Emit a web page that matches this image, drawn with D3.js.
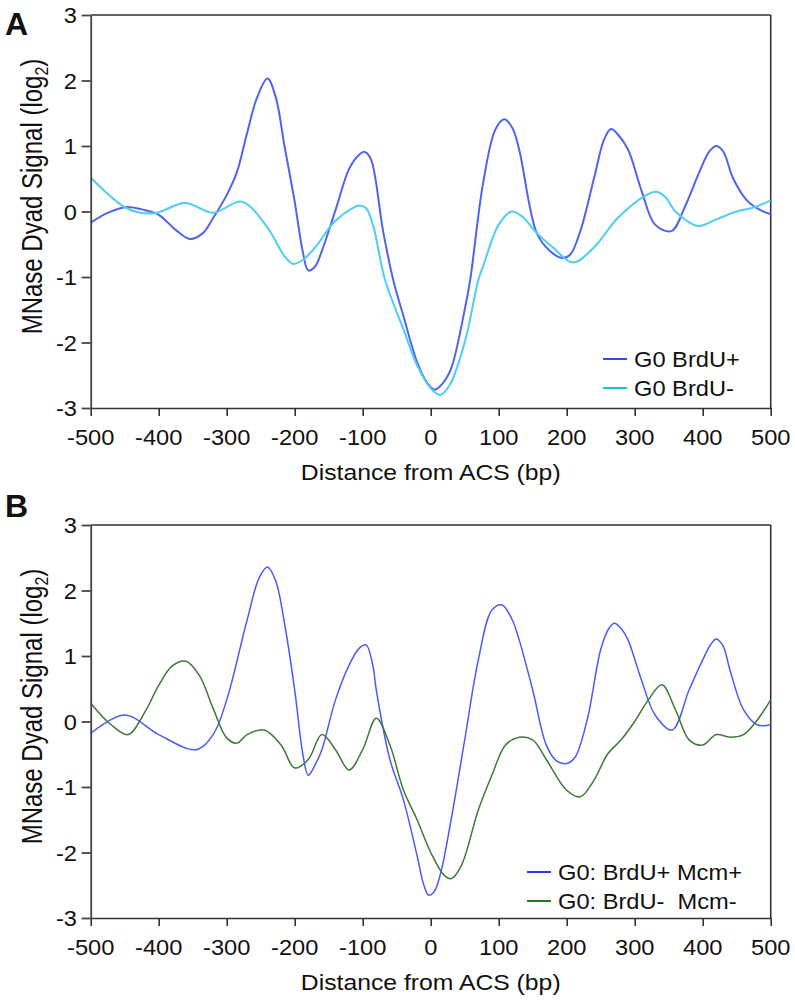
<!DOCTYPE html>
<html>
<head>
<meta charset="utf-8">
<script src="https://cdn.jsdelivr.net/npm/d3@7"></script>
<style>
  body { margin: 0; background: #fff; }
  svg text { font-family: "Liberation Sans", Arial, sans-serif; fill: #111; white-space: pre; }
</style>
</head>
<body>
<svg id="chart" width="795" height="1002"></svg>
<script>
// ---------- data ----------
const xTicks = [-500, -400, -300, -200, -100, 0, 100, 200, 300, 400, 500];
const yTicks = [-3, -2, -1, 0, 1, 2, 3];

// Panel A
const aPlusX  = [-500,-475,-447,-420,-400,-375,-354,-335,-320,-300,-285,-270,-255,-240,-228,-215,-200,-188,-180,-170,-160,-140,-120,-106,-97,-88,-70,-55,-40,-20,-5,6,18,30,50,58,77,95,108,120,130,156,175,193,205,220,240,255,265,275,290,310,330,354,375,395,410,420,430,445,465,485,500];
const aPlusY  = [-0.17,-0.02,0.07,0.02,-0.05,-0.28,-0.42,-0.33,-0.1,0.25,0.6,1.2,1.75,2.03,1.75,1.0,0.15,-0.62,-0.9,-0.84,-0.6,0.02,0.65,0.86,0.91,0.8,-0.3,-1.05,-1.6,-2.3,-2.62,-2.72,-2.62,-2.4,-1.5,-1.05,0.43,1.25,1.41,1.28,0.95,-0.33,-0.6,-0.71,-0.66,-0.3,0.5,1.1,1.26,1.18,0.95,0.32,-0.2,-0.3,0.1,0.6,0.92,1.0,0.92,0.5,0.17,0.02,-0.04];
const aMinusX = [-500,-447,-408,-361,-320,-278,-241,-215,-202,-188,-170,-141,-115,-105,-95,-85,-67,-40,-20,0,14,28,50,70,77,100,119,135,156,180,209,240,275,317,332,345,360,393,420,450,475,500];
const aMinusY = [0.52,0.05,-0.03,0.13,-0.02,0.15,-0.23,-0.68,-0.8,-0.74,-0.55,-0.15,0.05,0.09,0.05,-0.2,-1.05,-1.8,-2.35,-2.7,-2.8,-2.65,-2.0,-1.05,-0.84,-0.2,0.0,-0.08,-0.33,-0.55,-0.78,-0.55,-0.1,0.25,0.3,0.22,0.0,-0.22,-0.12,0.0,0.06,0.17];

// Panel B
const bPlusX  = [-500,-450,-400,-345,-320,-300,-270,-252,-240,-228,-215,-200,-188,-180,-168,-160,-140,-120,-105,-95,-85,-80,-60,-40,-20,-10,-3,5,15,30,50,70,90,105,120,130,150,170,185,200,212,230,250,262,270,280,290,310,330,355,380,400,412,420,430,440,460,480,500];
const bPlusY  = [-0.18,0.1,-0.2,-0.43,-0.2,0.33,1.55,2.2,2.36,2.15,1.5,0.48,-0.5,-0.82,-0.62,-0.43,0.33,0.86,1.12,1.17,0.85,0.48,-0.58,-1.2,-2.05,-2.5,-2.65,-2.6,-2.3,-1.5,-0.28,0.94,1.7,1.78,1.55,1.25,0.48,-0.36,-0.6,-0.64,-0.55,0.02,1.1,1.42,1.5,1.42,1.25,0.63,0.1,-0.13,0.48,0.94,1.18,1.26,1.15,0.79,0.18,-0.05,-0.05];
const bMinusX = [-500,-470,-445,-420,-400,-380,-360,-340,-320,-300,-285,-270,-245,-220,-200,-180,-160,-140,-120,-100,-80,-60,-40,-20,0,20,30,45,70,90,110,130,150,170,200,220,240,260,280,300,320,340,360,380,400,420,440,460,480,500];
const bMinusY = [0.28,-0.05,-0.2,0.15,0.55,0.85,0.92,0.7,0.2,-0.25,-0.33,-0.2,-0.13,-0.36,-0.71,-0.58,-0.2,-0.43,-0.74,-0.43,0.05,-0.36,-1.05,-1.5,-2.0,-2.35,-2.4,-2.2,-1.35,-0.82,-0.36,-0.24,-0.28,-0.58,-1.05,-1.15,-0.9,-0.5,-0.28,0.0,0.33,0.56,0.18,-0.28,-0.36,-0.2,-0.24,-0.2,0.02,0.33];

const panels = [
  { letter: "A", top: 15, bottom: 408,
    series: [
      { name: "G0 BrdU+", xs: aPlusX, ys: aPlusY, color: "#5064f0", legend: "#3349f0", width: 2 },
      { name: "G0 BrdU-", xs: aMinusX, ys: aMinusY, color: "#4fcdf7", legend: "#20c4cc", width: 2 }
    ],
    legendX: 603, legendY: 359 },
  { letter: "B", top: 525, bottom: 918,
    series: [
      { name: "G0: BrdU+ Mcm+", xs: bPlusX, ys: bPlusY, color: "#4a5cf5", legend: "#2b3cf2", width: 1.5 },
      { name: "G0: BrdU-  Mcm-", xs: bMinusX, ys: bMinusY, color: "#3d7a35", legend: "#1c7a1c", width: 1.5 }
    ],
    legendX: 527, legendY: 872 }
];

// ---------- drawing ----------
const svg = d3.select("#chart");
const SX = 1.1; // horizontal text stretch seen in the reference
const left = 90.7, right = 770.7;
const x = d3.scaleLinear().domain([-500, 500]).range([left, right]);

function stretchedText(g, tx, ty, str, size, anchor) {
  return g.append("text")
    .attr("transform", `translate(${tx},${ty}) scale(${SX},1)`)
    .attr("text-anchor", anchor)
    .attr("font-size", size)
    .text(str);
}

panels.forEach(p => {
  const y = d3.scaleLinear().domain([-3, 3]).range([p.bottom, p.top]);
  const g = svg.append("g");

  // frame (top + right)
  g.append("line").attr("x1", left).attr("x2", right).attr("y1", p.top).attr("y2", p.top)
    .attr("stroke", "#333").attr("stroke-width", 1.6);
  g.append("line").attr("x1", right).attr("x2", right).attr("y1", p.top).attr("y2", p.bottom)
    .attr("stroke", "#333").attr("stroke-width", 1.6);

  // series
  const line = d3.line().curve(d3.curveCatmullRom.alpha(0.5)).x(d => x(d[0])).y(d => y(d[1]));
  p.series.forEach(s => {
    const pts = s.xs.map((v, i) => [v, s.ys[i]]);
    g.append("path").attr("d", line(pts)).attr("fill", "none")
      .attr("stroke", s.color).attr("stroke-width", s.width).attr("stroke-linejoin", "round");
  });

  // x axis
  const xa = g.append("g").attr("transform", `translate(0,${p.bottom})`)
    .call(d3.axisBottom(x).tickValues(xTicks).tickSize(8).tickSizeOuter(0).tickFormat(""));
  xa.selectAll("path, line").attr("stroke", "#333").attr("stroke-width", 1.6);
  xTicks.forEach(t => stretchedText(g, x(t), p.bottom + 37, String(t), 21.5, "middle"));

  // y axis
  const ya = g.append("g").attr("transform", `translate(${left},0)`)
    .call(d3.axisLeft(y).tickValues(yTicks).tickSize(9).tickSizeOuter(0).tickFormat(""));
  ya.selectAll("path, line").attr("stroke", "#444").attr("stroke-width", 1.8);
  yTicks.forEach(t => stretchedText(g, 77, y(t) + 8, String(t), 21.5, "end"));

  // axis titles
  stretchedText(g, (left + right) / 2, p.bottom + 72, "Distance from ACS (bp)", 22.5, "middle");
  const yl = g.append("text")
    .attr("transform", `translate(42,${(p.top + p.bottom) / 2 - 15}) scale(1.2,1) rotate(-90)`)
    .attr("text-anchor", "middle").attr("font-size", 24);
  yl.append("tspan").text("MNase Dyad Signal (log");
  yl.append("tspan").attr("font-size", 16).attr("dy", 5).text("2");
  yl.append("tspan").attr("dy", -5).text(")");

  // panel letter
  g.append("text").attr("x", 5).attr("y", p.top + (p.letter === "A" ? 20 : -8))
    .attr("font-size", 32).attr("font-weight", "bold")
    .text(p.letter);

  // legend
  p.series.forEach((s, i) => {
    const ly = p.legendY + i * 29;
    g.append("line").attr("x1", p.legendX).attr("x2", p.legendX + 24)
      .attr("y1", ly).attr("y2", ly).attr("stroke", s.legend).attr("stroke-width", 2);
    stretchedText(g, p.legendX + 31, ly + 7.5, s.name, 21.5, "start");
  });
});
</script>
</body>
</html>
